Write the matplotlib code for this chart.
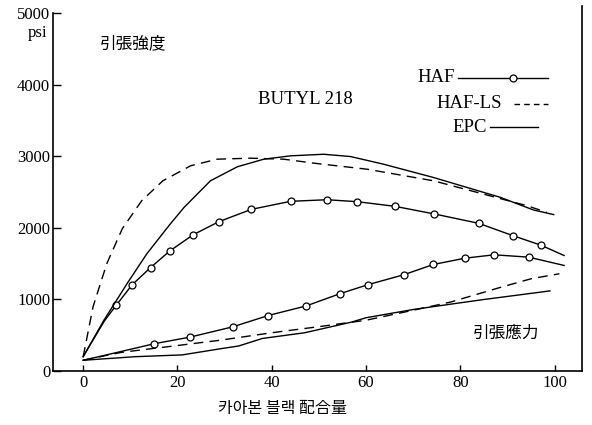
import matplotlib
matplotlib.use('Agg')
import matplotlib.pyplot as plt

W, H = 592, 425

# tensile strength (upper curves)
haf_ts_x = [0, 4.5, 7.0, 10.4, 14.3, 18.4, 23.3, 28.8, 35.7, 44.0, 51.7, 58.1, 66.1, 74.5, 83.9, 91.1, 97.1, 102]
haf_ts_y = [200, 700, 919, 1207, 1447, 1680, 1904, 2089, 2261, 2373, 2395, 2368, 2303, 2196, 2065, 1894, 1759, 1615]

hafls_ts_x = [0, 2.1, 5.0, 8.3, 12.4, 16.9, 22.8, 28.4, 35.5, 42.5, 49.6, 60.2, 74.3, 84.9, 94.1, 98.3]
hafls_ts_y = [200, 900, 1500, 1990, 2380, 2660, 2870, 2962, 2976, 2962, 2901, 2822, 2660, 2474, 2312, 2219]

epc_ts_x = [0, 4.4, 9.3, 13.5, 18.4, 21.4, 27.0, 32.7, 38.3, 44.0, 51.0, 56.7, 63.7, 74.3, 81.4, 88.5, 95.5, 99.8]
epc_ts_y = [200, 710, 1221, 1639, 2050, 2288, 2660, 2856, 2962, 3009, 3031, 2999, 2892, 2706, 2567, 2428, 2252, 2187]

# tensile stress (lower curves)
haf_st_x = [0, 7.8, 15.1, 22.6, 31.7, 39.2, 47.3, 54.5, 60.4, 68.0, 74.3, 81.0, 87.2, 94.5, 102]
haf_st_y = [150, 269, 382, 473, 617, 775, 910, 1082, 1207, 1346, 1490, 1578, 1625, 1592, 1476]

hafls_st_x = [0, 8, 18, 29, 40, 50, 60, 70, 78, 88, 95, 101]
hafls_st_y = [150, 260, 340, 430, 535, 620, 710, 850, 965, 1160, 1290, 1360]

epc_st_x = [0, 11, 21, 29, 33, 38, 47, 57, 60, 70, 78, 85, 92, 99]
epc_st_y = [150, 200, 225, 310, 350, 455, 535, 685, 745, 860, 935, 1000, 1060, 1120]

x_ticks = [0, 20, 40, 60, 80, 100]
y_ticks = [0, 1000, 2000, 3000, 4000, 5000]

serif = 'Liberation Serif'
cjk = ['Noto Sans CJK KR', 'DejaVu Sans']

fig = plt.figure(figsize=(W / 100, H / 100), dpi=100)
ax = fig.add_axes([53 / W, 1 - 371 / H, 529 / W, 364.7 / H])
ax.set_xlim(-6.4, 105.8)
ax.set_ylim(0, 5100)

lw = 1.0
dash = (0, (7, 4.5))
mk = dict(marker='o', ms=5, mfc='white', mec='black', mew=0.9)
ax.plot(haf_ts_x, haf_ts_y, color='black', lw=lw, markevery=list(range(2, 17)), **mk)
ax.plot(hafls_ts_x, hafls_ts_y, color='black', lw=lw, ls=dash)
ax.plot(epc_ts_x, epc_ts_y, color='black', lw=lw)
ax.plot(haf_st_x, haf_st_y, color='black', lw=lw, markevery=list(range(2, 14)), **mk)
ax.plot(hafls_st_x, hafls_st_y, color='black', lw=lw, ls=dash)
ax.plot(epc_st_x, epc_st_y, color='black', lw=lw)

ax.spines['top'].set_visible(False)
ax.spines['right'].set_visible(False)
ax.spines['left'].set_bounds(0, 5000)
for s in ['left', 'bottom']:
    ax.spines[s].set_linewidth(1.2)

ax.set_xticks(x_ticks)
ax.set_yticks(y_ticks)
ax.set_xticklabels([str(v) for v in x_ticks], fontfamily=serif, fontsize=12)
ax.set_yticklabels([str(v) for v in y_ticks], fontfamily=serif, fontsize=12)
ax.tick_params(axis='y', direction='in', length=6, width=1, pad=2)
ax.tick_params(axis='x', direction='in', length=4, width=1, pad=3)


def px(x, y):
    return x / W, 1 - y / H


fig.text(*px(28, 33), 'psi', fontfamily=serif, fontsize=12, va='center')
fig.text(*px(100, 44), '引張強度', fontfamily=cjk, fontsize=12, va='center')
fig.text(*px(305, 100), 'BUTYL 218', fontfamily=serif, fontsize=13.5,
         ha='center', va='center')
fig.text(*px(455, 78), 'HAF', fontfamily=serif, fontsize=13.5, ha='right', va='center')
fig.text(*px(502, 104), 'HAF-LS', fontfamily=serif, fontsize=13.5, ha='right', va='center')
fig.text(*px(487, 127), 'EPC', fontfamily=serif, fontsize=13.5, ha='right', va='center')
fig.text(*px(473, 333), '引張應力', fontfamily=cjk, fontsize=12, va='center')
fig.text(*px(283, 408), '카아본 블랙 配合量', fontfamily=cjk, fontsize=11.5,
         ha='center', va='center')

# legend samples drawn in figure pixels
fig.add_artist(plt.Line2D([458 / W, 513 / W, 548 / W], [1 - 78 / H] * 3, color='black',
                          lw=lw, markevery=[1], transform=fig.transFigure, **mk))
fig.add_artist(plt.Line2D([514 / W, 548 / W], [1 - 104 / H] * 2, color='black', lw=lw,
                          ls=(0, (4, 3)), transform=fig.transFigure))
fig.add_artist(plt.Line2D([490 / W, 538 / W], [1 - 127 / H] * 2, color='black', lw=lw,
                          transform=fig.transFigure))

# right frame line reaches higher than the axes
fig.add_artist(plt.Line2D([582 / W] * 2, [1 - 371 / H, 1 - 6 / H], color='black', lw=1.2,
                          transform=fig.transFigure))

fig.savefig('out.png', dpi=100)
